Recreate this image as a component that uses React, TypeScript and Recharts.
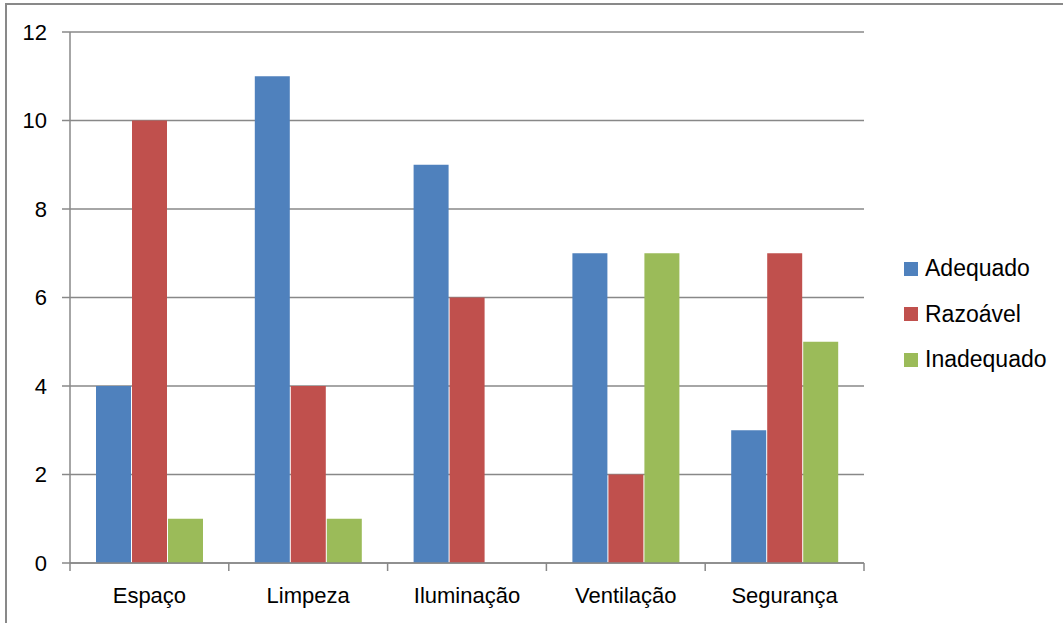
import React from "react";
import { BarChart, Bar, XAxis, YAxis, CartesianGrid } from "recharts";

const categories = ["Espaço", "Limpeza", "Iluminação", "Ventilação", "Segurança"];
const adequado = [4, 11, 9, 7, 3];
const razoavel = [10, 4, 6, 2, 7];
const inadequado = [1, 1, 0, 7, 5];
const yTicks = [0, 2, 4, 6, 8, 10, 12];

const series = [
  { key: "adequado", name: "Adequado", color: "#4F81BD" },
  { key: "razoavel", name: "Razoável", color: "#C0504D" },
  { key: "inadequado", name: "Inadequado", color: "#9BBB59" },
];

const data = categories.map((c, i) => ({
  name: c,
  adequado: adequado[i],
  razoavel: razoavel[i],
  inadequado: inadequado[i],
}));

const FONT = "'Liberation Sans', Arial, sans-serif";
const AXIS = "#888888";

// category labels with tick marks on the band edges (Excel style)
function CatTick(props: any) {
  const { x, y, payload, index } = props;
  const half = payload && payload.offset ? payload.offset : 79.4;
  const last = index === categories.length - 1;
  return (
    <g>
      <line x1={x - half} y1={y} x2={x - half} y2={y + 8} stroke={AXIS} strokeWidth={1.5} />
      {last && <line x1={x + half} y1={y} x2={x + half} y2={y + 8} stroke={AXIS} strokeWidth={1.5} />}
      <text x={x} y={y + 40} textAnchor="middle" fill="#000" fontSize={22} fontFamily={FONT}>
        {payload.value}
      </text>
    </g>
  );
}

export default function App() {
  return (
    <div style={{ position: "fixed", left: 0, top: 0, width: 1063, height: 623, background: "#fff", fontFamily: FONT }}>
      <div
        style={{
          position: "absolute",
          left: 5,
          top: 3,
          width: 1100,
          height: 700,
          border: "2px solid #898989",
          boxSizing: "border-box",
        }}
      />
      <div style={{ position: "absolute", left: 0, top: 0 }}>
        <BarChart
          width={1063}
          height={623}
          data={data}
          margin={{ top: 32, right: 199, bottom: 0, left: 0 }}
          barSize={35}
          barGap={1}
        >
          <CartesianGrid vertical={false} stroke={AXIS} strokeWidth={1.5} />
          <XAxis
            dataKey="name"
            height={60}
            axisLine={{ stroke: AXIS, strokeWidth: 1.5 }}
            tickLine={false}
            tickSize={0}
            tickMargin={0}
            tick={<CatTick />}
            interval={0}
          />
          <YAxis
            width={70}
            domain={[0, 12]}
            ticks={yTicks}
            axisLine={{ stroke: AXIS, strokeWidth: 1.5 }}
            tickLine={{ stroke: AXIS, strokeWidth: 1.5 }}
            tickSize={8}
            tickMargin={15}
            tick={{ fill: "#000", fontSize: 22, fontFamily: FONT }}
          />
          {series.map((s) => (
            <Bar key={s.key} dataKey={s.key} name={s.name} fill={s.color} isAnimationActive={false} />
          ))}
        </BarChart>
      </div>
      <div style={{ position: "absolute", left: 904, top: 246 }}>
        {series.map((s) => (
          <div key={s.key} style={{ display: "flex", alignItems: "center", height: 45.5 }}>
            <div style={{ width: 14, height: 14, background: s.color, marginRight: 7 }} />
            <span style={{ fontSize: 23, color: "#000", lineHeight: "23px" }}>{s.name}</span>
          </div>
        ))}
      </div>
    </div>
  );
}
